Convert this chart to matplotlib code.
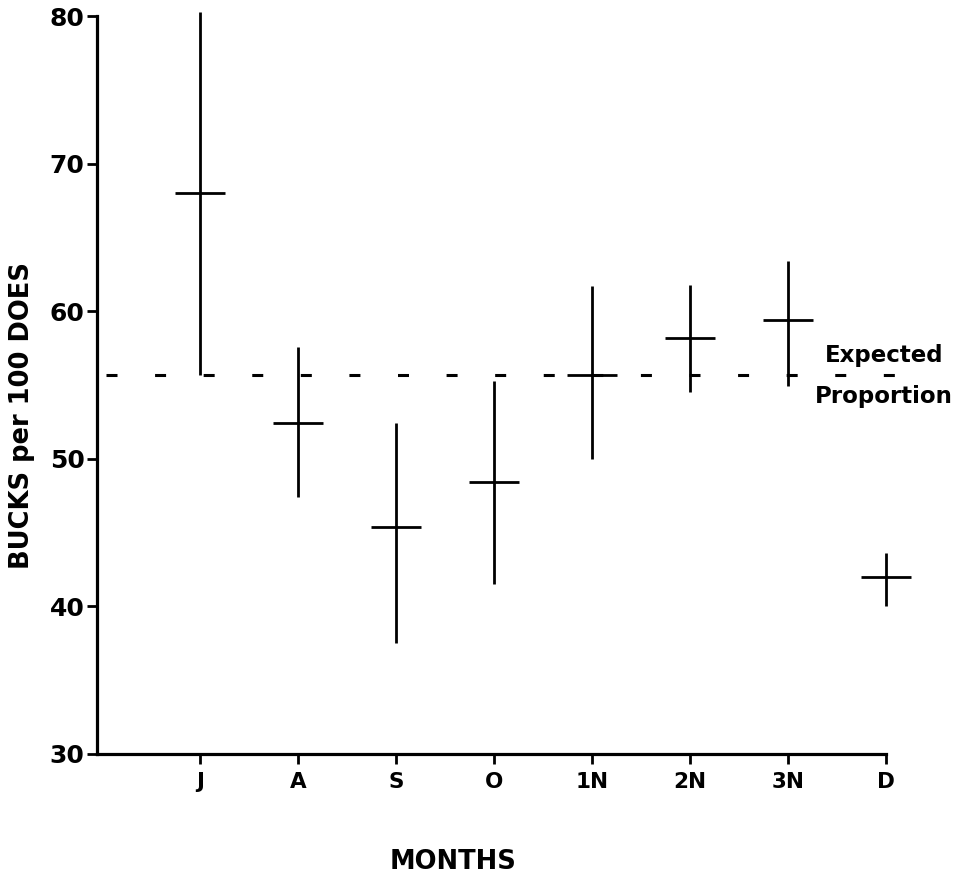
import matplotlib
matplotlib.use("Agg")
import matplotlib.pyplot as plt
import numpy as np

# sex ratio by month
months = ['J', 'A', 'S', 'O', '1N', '2N', '3N', 'D']
means = [68.0, 52.4, 45.4, 48.4, 55.7, 58.2, 59.4, 42.0]
lows = [55.7, 47.4, 37.5, 41.5, 50.0, 54.5, 54.9, 40.0]
highs = [80.3, 57.6, 52.4, 55.3, 61.7, 61.8, 63.4, 43.6]
expected = 55.7
yticks = [30, 40, 50, 60, 70, 80]

plt.rcParams['font.family'] = ['DejaVu Sans']
plt.rcParams['font.weight'] = 'bold'

fig = plt.figure(figsize=(9.63, 8.8), dpi=100)
ax = fig.add_axes([0.1007, 0.1432, 0.8190, 0.8386])

x = np.arange(1, len(months) + 1)
means_a = np.array(means)
yerr = [means_a - np.array(lows), np.array(highs) - means_a]
eb = ax.errorbar(x, means, yerr=yerr, xerr=0.255, fmt='none',
                 ecolor='black', elinewidth=2.0, capsize=0)
for c in eb.lines[2]:
    c.set_clip_on(False)

# expected proportion line
ax.axhline(expected, xmin=0.011, xmax=1.047, color='black', lw=2.2,
           dashes=(3.6, 12.3), clip_on=False)
ax.text(7.98, 57.0, 'Expected', ha='center', va='center', fontsize=16.5,
        fontweight='bold')
ax.text(7.98, 54.2, 'Proportion', ha='center', va='center', fontsize=16.5,
        fontweight='bold')

ax.set_xlim(-0.05, 8)
ax.set_ylim(30, 80)
ax.set_xticks(x)
ax.set_xticklabels(months)
ax.set_yticks(yticks)

for s in ['top', 'right']:
    ax.spines[s].set_visible(False)
for s in ['left', 'bottom']:
    ax.spines[s].set_linewidth(2.3)

ax.tick_params(axis='y', direction='out', length=7, width=2, pad=2,
               labelsize=18)
ax.tick_params(axis='x', direction='out', length=7, width=2, pad=6,
               labelsize=15.5)

ax.set_ylabel('BUCKS per 100 DOES', fontsize=18.5, fontweight='bold', va='center')
ax.yaxis.set_label_coords(-0.095, 0.458)
ax.set_xlabel('MONTHS', fontsize=18.5, fontweight='bold', va='center')
ax.xaxis.set_label_coords(0.451, -0.146)

fig.savefig('out.png', dpi=100)
